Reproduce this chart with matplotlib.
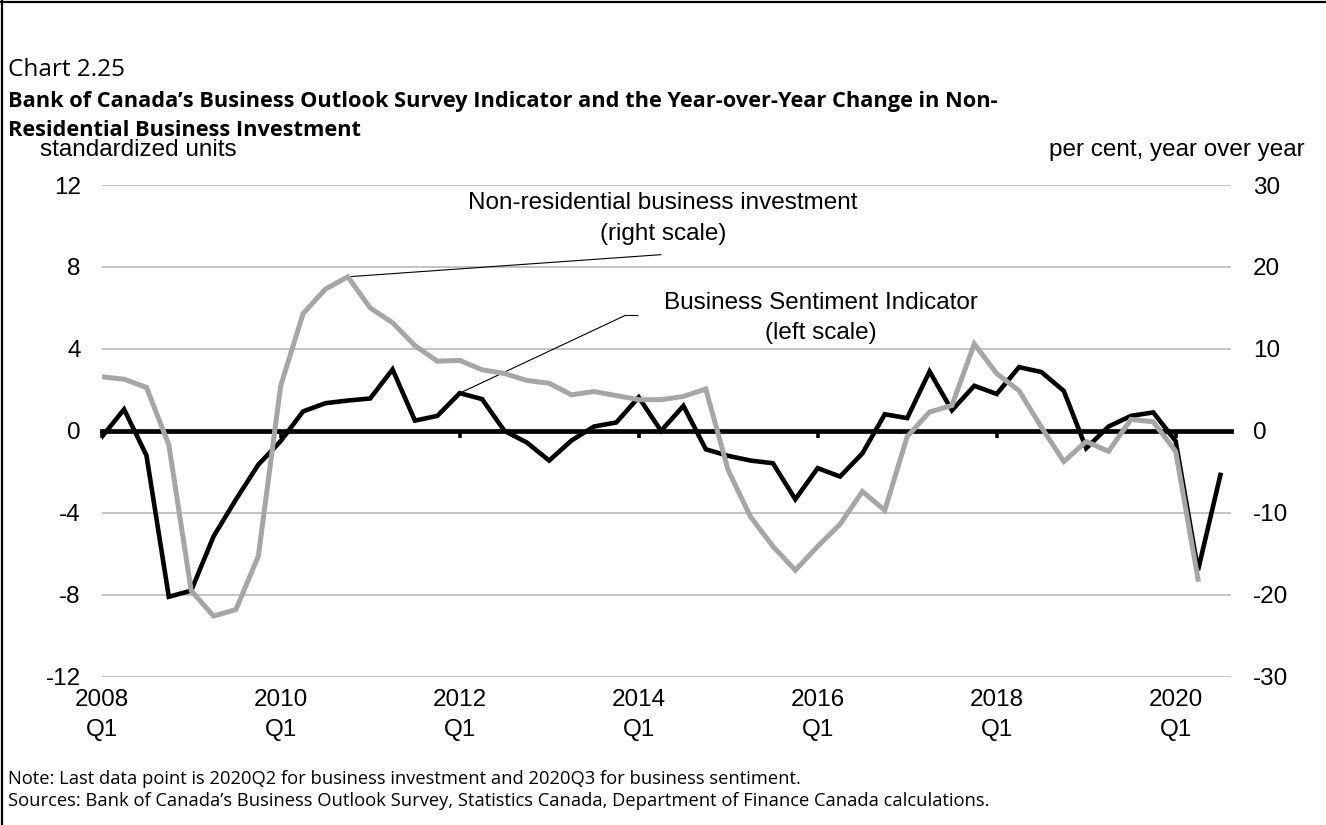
import matplotlib
matplotlib.use("Agg")
import matplotlib.pyplot as plt
from matplotlib.lines import Line2D

# quarterly data, 2008Q1 onwards
years = list(range(2008, 2021))
quarters = [f"{y}Q{q}" for y in years for q in range(1, 5)][:51]

# Business Sentiment Indicator (left scale, standardized units), to 2020Q3
bos_indicator = [-0.3, 1.05, -1.2, -8.1, -7.8, -5.15, -3.35, -1.65, -0.5, 0.95,
                 1.35, 1.48, 1.58, 3.0, 0.5, 0.73, 1.84, 1.55, 0.0, -0.57,
                 -1.45, -0.47, 0.21, 0.41, 1.64, 0.0, 1.22, -0.9, -1.22, -1.45,
                 -1.58, -3.34, -1.82, -2.23, -1.1, 0.81, 0.62, 2.9, 1.0, 2.2,
                 1.8, 3.11, 2.87, 1.95, -0.85, 0.21, 0.73, 0.9, -0.5, -6.8,
                 -2.15]

# Non-residential business investment, y/y % (right scale), to 2020Q2
nrbi_yoy = [6.6, 6.3, 5.3, -1.7, -19.5, -22.6, -21.8, -15.3, 5.5, 14.3,
            17.3, 18.8, 15.0, 13.2, 10.4, 8.5, 8.6, 7.45, 7.0, 6.15,
            5.8, 4.4, 4.8, 4.3, 3.8, 3.8, 4.2, 5.1, -4.8, -10.5,
            -14.1, -17.0, -14.1, -11.4, -7.4, -9.7, -0.7, 2.3, 3.1, 10.6,
            7.0, 4.9, 0.45, -3.75, -1.3, -2.5, 1.4, 1.1, -2.5, -18.1]

tick_pos = list(range(0, 49, 8))
tick_labels = [f"{quarters[i][:4]}\nQ1" for i in tick_pos]

left_ticks = [-12, -8, -4, 0, 4, 8, 12]
right_ticks = [-30, -20, -10, 0, 10, 20, 30]

SANS = "Liberation Sans"
UI = "Open Sans"
FS = 17.5

fig = plt.figure(figsize=(13.26, 8.25), dpi=100)
ax = fig.add_axes([101.7 / 1326, 1 - 676.7 / 825, (1230.7 - 101.7) / 1326, (676.7 - 185) / 825])
ax2 = ax.twinx()

x_bos = list(range(len(bos_indicator)))
x_nrbi = list(range(len(nrbi_yoy)))

ax.plot(x_bos, bos_indicator, color="black", lw=3.3, solid_joinstyle="miter", zorder=3)
ax2.plot(x_nrbi, nrbi_yoy, color="#a6a6a6", lw=3.6, solid_joinstyle="miter", zorder=3)

ax.set_xlim(0, 50.46)
ax.set_ylim(-12, 12)
ax2.set_ylim(-30, 30)
ax.set_yticks(left_ticks)
ax2.set_yticks(right_ticks)
ax.set_yticklabels([str(v) for v in left_ticks], fontsize=FS, fontfamily=SANS)
ax2.set_yticklabels([str(v) for v in right_ticks], fontsize=FS, fontfamily=SANS)
ax.grid(axis="y", color="#b3b3b3", lw=1.1)
ax.set_axisbelow(True)
ax.tick_params(axis="y", length=0, pad=15)
ax2.tick_params(axis="y", length=0, pad=16)

for s in ["top", "left", "right"]:
    ax.spines[s].set_visible(False)
for s in ["top", "left", "right", "bottom"]:
    ax2.spines[s].set_visible(False)

# zero line with the category ticks hanging off it
ax.spines["bottom"].set_position(("data", 0))
ax.spines["bottom"].set_linewidth(3.4)
ax.spines["bottom"].set_zorder(2.5)
ax.set_xticks(tick_pos)
ax.tick_params(axis="x", direction="out", length=5, width=2.6, labelbottom=False)

# labels at the bottom of the plot area
secx = ax.secondary_xaxis("bottom")
secx.set_xticks(tick_pos)
secx.set_xticklabels(tick_labels, fontsize=FS, fontfamily=SANS)
secx.tick_params(length=0, pad=9)
secx.spines["bottom"].set_visible(False)
for lab in secx.get_xticklabels():
    lab.set_linespacing(1.48)

# series labels and leader lines
ax.text(25.09, 10.36, "Non-residential business investment\n(right scale)", ha="center", va="center",
        fontsize=FS, fontfamily=SANS, linespacing=1.5)
ax.annotate("", xy=(11, nrbi_yoy[11] / 2.5), xytext=(25.0, 8.6),
            arrowprops=dict(arrowstyle="-", color="black", lw=0.8, shrinkA=0, shrinkB=0))

ax.text(32.16, 5.52, "Business Sentiment Indicator\n(left scale)", ha="center", va="center",
        fontsize=FS, fontfamily=SANS, linespacing=1.5)
ax.plot([16, 23.39, 23.96], [bos_indicator[16], 5.63, 5.63], color="black", lw=0.8, zorder=4)

# headings and notes
fig.text(8 / 1326, 1 - 70 / 825, "Chart 2.25", fontsize=17.5, fontfamily=UI, va="center", ha="left")
fig.text(8 / 1326, 1 - 101 / 825,
         "Bank of Canada’s Business Outlook Survey Indicator and the Year-over-Year Change in Non-",
         fontsize=15.7, fontfamily=UI, fontweight="bold", va="center", ha="left")
fig.text(8 / 1326, 1 - 131 / 825, "Residential Business Investment",
         fontsize=15.7, fontfamily=UI, fontweight="bold", va="center", ha="left")
fig.text(40 / 1326, 1 - 150 / 825, "standardized units", fontsize=FS, fontfamily=SANS, va="center", ha="left")
fig.text(1305 / 1326, 1 - 150 / 825, "per cent, year over year", fontsize=FS, fontfamily=SANS,
         va="center", ha="right")
fig.text(8 / 1326, 1 - 779 / 825,
         "Note: Last data point is 2020Q2 for business investment and 2020Q3 for business sentiment.",
         fontsize=13.2, fontfamily=UI, va="center", ha="left")
fig.text(8 / 1326, 1 - 801 / 825,
         "Sources: Bank of Canada’s Business Outlook Survey, Statistics Canada, Department of Finance Canada calculations.",
         fontsize=13.2, fontfamily=UI, va="center", ha="left")

# frame: top and left edges only
fig.add_artist(Line2D([0, 1], [1 - 1.5 / 825, 1 - 1.5 / 825], transform=fig.transFigure, color="black", lw=1.6))
fig.add_artist(Line2D([1.5 / 1326, 1.5 / 1326], [0, 1], transform=fig.transFigure, color="black", lw=1.6))

fig.savefig("out.png", dpi=100)
